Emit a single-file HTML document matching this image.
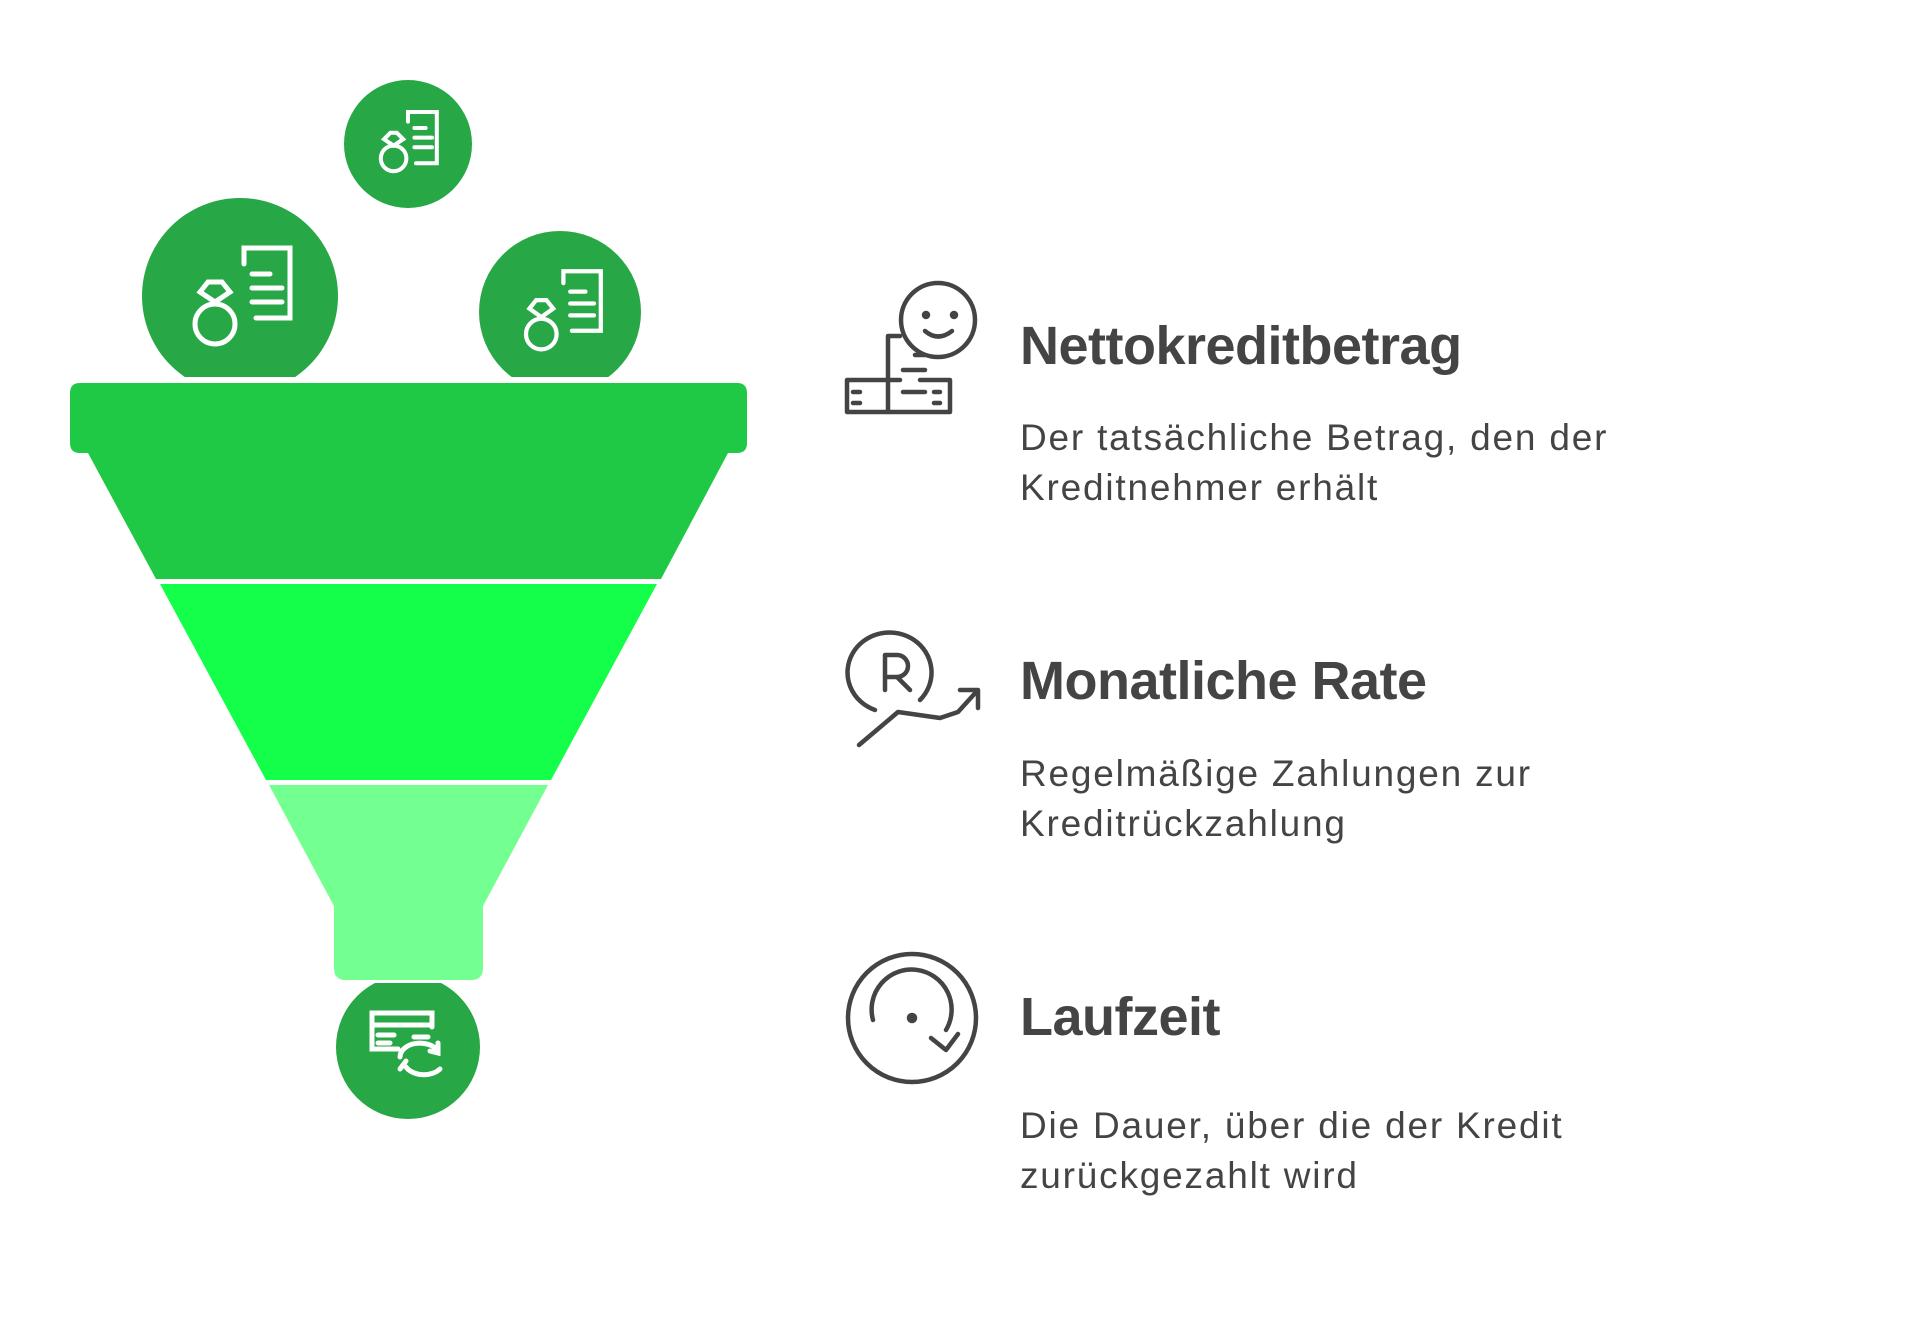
<!DOCTYPE html>
<html><head><meta charset="utf-8"><style>
body{margin:0;width:1920px;height:1320px;background:#fff;position:relative;overflow:hidden;font-family:"Liberation Sans",sans-serif;color:#444}
.t{position:absolute;left:1020px;font-weight:bold;font-size:54px;letter-spacing:-0.5px}
.d{position:absolute;left:1020px;font-size:37px;line-height:50px;letter-spacing:1.8px}
</style></head><body>
<svg width="1920" height="1320" style="position:absolute;left:0;top:0">
<defs><clipPath id="c1"><rect x="0" y="0" width="1920" height="377"/></clipPath>
<clipPath id="c2"><rect x="0" y="983" width="1920" height="400"/></clipPath></defs>
<g fill="#27a745">
<circle cx="408" cy="144" r="64"/>
<circle cx="240" cy="296" r="98" clip-path="url(#c1)"/>
<circle cx="560" cy="312" r="81" clip-path="url(#c1)"/>
<circle cx="408" cy="1047" r="72" clip-path="url(#c2)"/>
</g>
<g stroke="#fff" stroke-width="5" fill="none" stroke-linecap="round">
<g transform="translate(408,144) scale(0.8)"><circle cx="-18" cy="18" r="16"/><path d="M-30 -6 L-22 -14 L-14 -14 L-6 -6 L-18 2 Z"/><path d="M0 -28 V-40 H36 V24 H10 M8 -20 H22 M8 -8 H30 M8 4 H30"/></g>
<g transform="translate(240,296)"><circle cx="-25" cy="28" r="20"/><path d="M-40 -4 L-32 -14 L-18 -14 L-10 -4 L-25 6 Z"/><path d="M4 -32 V-48 H50 V22 H16 M12 -22 H30 M12 -8 H42 M12 6 H42"/></g>
<g transform="translate(560,312) scale(0.85)"><circle cx="-22" cy="26" r="18"/><path d="M-36 -4 L-28 -14 L-16 -14 L-8 -4 L-22 6 Z"/><path d="M4 -34 V-48 H48 V22 H14 M12 -24 H30 M12 -10 H40 M12 4 H40"/></g>
<g transform="translate(408,1047)"><path d="M-10 2 H-36 V-34 H24 V-20 M-36 -22 H24 M-30 -12 H-14 M-30 -4 H-18 M6 -10 H20"/><path d="M-8 10 A20 14 0 0 1 30 4 M30 -4 L30 6 L22 4 M-2 20 A20 14 0 0 0 32 22 M-8 22 L-2 14"/></g>
</g>
<path d="M80 383 H737 Q747 383 747 393 V443 Q747 453 737 453 H728 L661 579 H156 L88 453 H80 Q70 453 70 443 V393 Q70 383 80 383 Z" fill="#1fc845"/>
<path d="M160 584 H657 L551 780 H266 Z" fill="#14ff4a"/>
<path d="M269 785 H548 L483 906 V968 Q483 980 471 980 H346 Q334 980 334 968 V906 Z" fill="#74ff91"/>
<g stroke="#444" stroke-width="4.5" fill="none" stroke-linecap="round" stroke-linejoin="round">
<circle cx="938" cy="320" r="37"/><circle cx="926" cy="315" r="2" fill="#444"/><circle cx="954" cy="315" r="2" fill="#444"/><path d="M925 331 Q938 342 952 331"/>
<path d="M888 380 V336 H900 M847 412 V380 H888 V412 Z M847 412 H950 V380 H920 M888 380 H900 M915 355 H925 M903 370 H925 M903 392 H925 M853 392 H860 M853 403 H860 M934 392 H940 M934 403 H940"/>
<path d="M875 710 A42 40 0 1 1 920 700"/><path d="M885 690 V655 H897 A10 10 0 0 1 897 677 H885 M897 677 L910 690"/>
<path d="M859 745 L898 712 L940 718 L958 712 L978 690 M960 690 H978 V708"/>
<circle cx="912" cy="1018" r="64"/><path d="M873 1020 A40 40 0 1 1 946 1030 M931 1038 L946 1050 L958 1034"/><circle cx="912" cy="1018" r="3" fill="#444"/>
</g>
</svg>
<div class="t" style="top:315px">Nettokreditbetrag</div>
<div class="d" style="top:413px">Der tatsächliche Betrag, den der<br>Kreditnehmer erhält</div>
<div class="t" style="top:650px">Monatliche Rate</div>
<div class="d" style="top:749px">Regelmäßige Zahlungen zur<br>Kreditrückzahlung</div>
<div class="t" style="top:986px">Laufzeit</div>
<div class="d" style="top:1101px">Die Dauer, über die der Kredit<br>zurückgezahlt wird</div>
</body></html>
